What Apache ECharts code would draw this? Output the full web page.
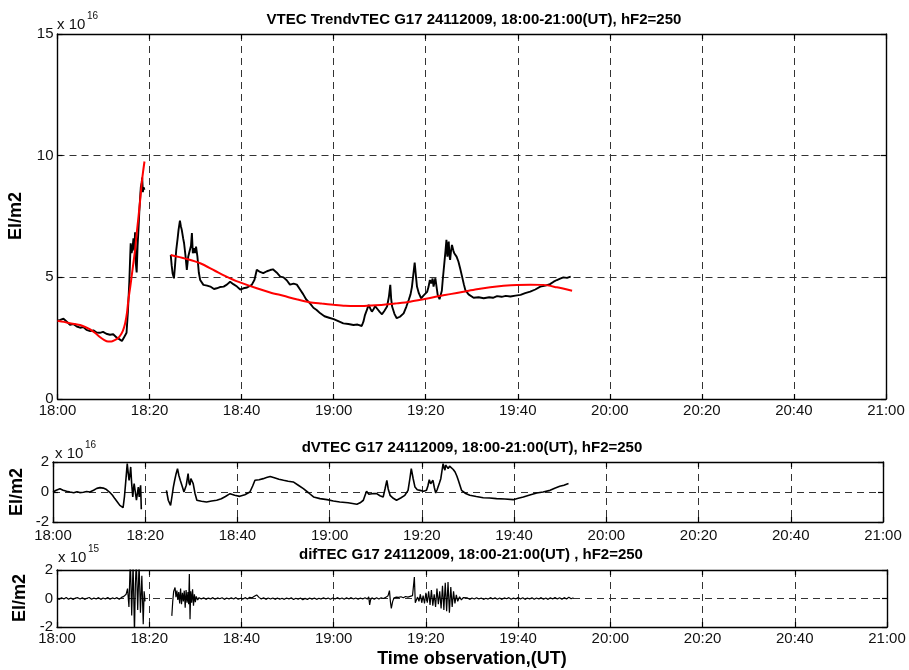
<!DOCTYPE html>
<html>
<head>
<meta charset="utf-8">
<script src="https://cdn.jsdelivr.net/npm/echarts@6/dist/echarts.min.js"></script>
<style>
  html, body { margin: 0; padding: 0; background: #fff; }
  #chart { width: 909px; height: 670px; }
</style>
</head>
<body>
<div id="chart"></div>
<script>
// Time axis: minutes after 18:00 UT
const timeLabels = ['18:00', '18:20', '18:40', '19:00', '19:20', '19:40', '20:00', '20:20', '20:40', '21:00'];

// VTEC (x1e16 El/m2), observed, two passes
const vtecSeg1 = [[0,3.22],[0.6,3.25],[1.3,3.30],[1.9,3.20],[2.7,3.05],[3.4,3.08],[4.2,2.98],[4.9,2.93],[5.6,2.96],[6.3,2.84],[7.1,2.79],[7.8,2.82],[8.5,2.73],[9.2,2.72],[9.9,2.76],[10.6,2.68],[11.4,2.64],[12.1,2.66],[12.9,2.52],[13.5,2.45],[14.0,2.38],[14.5,2.55],[15.0,2.72],[15.3,3.6],[15.6,4.8],[15.8,5.9],[15.9,6.4],[16.1,6.0],[16.3,6.2],[16.5,6.6],[16.7,6.1],[16.85,6.85],[17.0,5.6],[17.2,5.2],[17.4,6.3],[17.6,7.0],[17.8,7.8],[18.0,8.4],[18.1,8.7],[18.3,8.9],[18.4,9.1],[18.55,8.5],[18.7,8.7],[18.9,8.6]];
const vtecSeg2 = [[24.6,5.92],[24.8,5.5],[25.0,5.17],[25.3,4.96],[25.5,5.4],[25.8,6.13],[26.1,6.6],[26.3,6.95],[26.6,7.33],[26.8,7.1],[27.0,6.95],[27.3,6.6],[27.5,6.40],[27.8,5.9],[28.1,5.31],[28.4,5.85],[28.6,6.0],[28.8,6.06],[29.0,6.3],[29.2,6.82],[29.4,5.99],[29.7,6.20],[29.9,6.0],[30.1,6.26],[30.4,5.85],[30.7,5.2],[31.0,4.89],[31.7,4.69],[32.5,4.66],[33.2,4.62],[34.0,4.52],[34.6,4.55],[35.3,4.60],[36.1,4.62],[36.8,4.70],[37.5,4.82],[38.2,4.72],[39.0,4.62],[39.7,4.50],[40.4,4.55],[41.2,4.58],[42.2,4.69],[42.8,4.9],[43.3,5.31],[44.0,5.22],[44.7,5.17],[45.5,5.25],[46.2,5.30],[46.8,5.33],[47.6,5.20],[48.4,5.03],[49.1,5.00],[49.8,4.88],[50.5,4.70],[51.3,4.74],[52.0,4.70],[52.7,4.50],[53.4,4.30],[54.0,4.10],[54.9,3.92],[55.6,3.75],[56.3,3.66],[57.1,3.52],[58.0,3.40],[59.0,3.34],[60.0,3.28],[61.0,3.20],[62.1,3.11],[63.2,3.08],[64.3,3.04],[65.2,3.06],[66.1,3.0],[66.5,3.2],[66.8,3.45],[67.2,3.65],[67.6,3.87],[68.0,3.70],[68.3,3.59],[68.7,3.70],[69.0,3.82],[69.5,3.70],[70.0,3.58],[70.5,3.48],[71.0,3.62],[71.6,3.80],[72.0,4.2],[72.3,4.69],[72.5,4.1],[72.7,3.80],[73.2,3.50],[73.7,3.32],[74.4,3.38],[75.2,3.52],[75.8,3.80],[76.3,4.07],[76.7,4.30],[77.0,4.6],[77.3,5.1],[77.6,5.61],[77.9,5.0],[78.1,4.62],[78.5,4.35],[79.0,4.14],[79.5,4.25],[79.9,4.21],[80.3,4.40],[80.6,4.60],[80.9,4.89],[81.2,4.75],[81.5,4.95],[81.7,4.62],[81.9,4.80],[82.1,4.96],[82.4,4.55],[82.6,4.28],[83.0,4.10],[83.2,4.14],[83.5,4.45],[83.7,4.9],[83.9,5.3],[84.1,5.7],[84.3,6.1],[84.5,6.54],[84.7,5.85],[84.85,6.3],[85.0,6.47],[85.15,5.9],[85.3,5.72],[85.5,6.1],[85.7,6.33],[86.0,6.1],[86.2,5.99],[86.7,5.85],[87.1,5.65],[87.5,5.35],[87.9,5.03],[88.3,4.70],[88.6,4.48],[89.3,4.30],[90.4,4.16],[91.5,4.18],[92.6,4.14],[93.8,4.18],[94.6,4.16],[95.5,4.23],[96.5,4.20],[97.4,4.24],[98.4,4.21],[99.5,4.25],[100.6,4.28],[101.6,4.35],[102.7,4.41],[103.8,4.50],[104.9,4.62],[106.0,4.66],[107.0,4.72],[107.8,4.82],[108.5,4.89],[109.2,4.95],[109.9,5.0],[110.7,4.98],[111.5,5.03]];

// VTEC polynomial trend (x1e16 El/m2)
const trendSeg1 = [[0,3.22],[1.4,3.17],[2.7,3.11],[3.8,3.08],[4.9,3.04],[6.0,2.96],[7.1,2.86],[8.2,2.71],[9.2,2.55],[10.1,2.43],[11.0,2.36],[11.7,2.36],[12.4,2.42],[13.0,2.48],[13.6,2.60],[14.2,2.80],[14.7,3.11],[15.1,3.55],[15.4,4.07],[15.8,4.60],[16.1,5.03],[16.5,5.60],[16.85,6.13],[17.2,6.80],[17.6,7.5],[18.0,8.25],[18.3,8.87],[18.6,9.35],[18.9,9.76]];
const trendSeg2 = [[24.6,5.92],[27.8,5.77],[31,5.58],[34.2,5.27],[37.5,4.96],[40.4,4.74],[43.3,4.55],[46.2,4.38],[49.1,4.24],[51.9,4.10],[54.7,3.98],[57.4,3.92],[60,3.87],[62.5,3.83],[65,3.82],[67.9,3.84],[70.8,3.87],[73.7,3.93],[76.6,4.0],[79.5,4.10],[82.4,4.21],[85.3,4.31],[88.2,4.41],[91.1,4.51],[94,4.59],[96.9,4.65],[99.8,4.69],[102.7,4.70],[105.6,4.69],[108.5,4.59],[111.8,4.45]];

// dVTEC (x1e16 El/m2)
const dvtecSeg1 = [[0,0],[0.7,0.12],[1.5,0.22],[2.2,0.12],[2.95,0.05],[3.7,0.0],[4.5,-0.05],[5.2,0.02],[5.8,-0.04],[6.6,-0.02],[7.3,0.03],[8.0,0.0],[8.8,0.12],[9.5,0.24],[10.2,0.29],[10.9,0.26],[11.6,0.16],[12.3,-0.02],[12.9,-0.22],[13.4,-0.44],[14.0,-0.68],[14.5,-0.89],[15.2,-1.04],[15.5,-0.3],[15.8,0.78],[16.1,1.89],[16.3,1.3],[16.5,0.78],[16.7,1.2],[16.85,1.67],[17.05,0.6],[17.3,-0.33],[17.45,0.2],[17.6,0.56],[17.85,0.0],[18.1,-0.55],[18.3,-0.1],[18.5,0.33],[18.7,-0.33],[18.85,0.1],[19.0,0.45],[19.15,-1.15]];
const dvtecSeg2 = [[24.6,0.11],[25.0,-0.55],[25.5,-0.89],[25.8,-0.3],[26.1,0.33],[26.4,0.8],[26.7,1.22],[27.0,1.56],[27.3,1.1],[27.6,0.78],[28.0,0.4],[28.4,0.0],[28.9,0.45],[29.3,1.22],[29.5,0.6],[29.7,0.45],[29.9,0.9],[30.1,0.78],[30.4,0.56],[30.8,-0.1],[31.2,-0.55],[32.2,-0.62],[33.3,-0.67],[34.4,-0.60],[35.5,-0.55],[36.5,-0.45],[37.4,-0.30],[38.4,-0.11],[39.4,-0.22],[40.5,-0.29],[41.6,-0.18],[42.7,0.0],[43.3,0.4],[43.8,0.78],[44.7,0.82],[45.6,0.89],[46.3,0.96],[47.1,1.04],[48.0,0.95],[49.0,0.85],[50.0,0.78],[51.0,0.72],[52.1,0.67],[53.2,0.45],[54.3,0.22],[55.4,-0.05],[56.5,-0.33],[57.9,-0.44],[59.4,-0.51],[60.8,-0.60],[62.2,-0.67],[64.0,-0.72],[65.9,-0.82],[66.6,-0.72],[67.3,-0.55],[67.7,-0.2],[68.0,0.05],[68.5,-0.15],[68.9,-0.22],[69.5,-0.1],[70.2,-0.11],[70.9,-0.25],[71.6,-0.33],[72.0,0.2],[72.4,0.78],[72.7,0.2],[73.1,-0.22],[73.8,-0.42],[74.5,-0.55],[75.4,-0.40],[76.3,-0.22],[77.0,0.11],[77.4,0.9],[77.7,1.56],[78.1,0.9],[78.5,0.33],[79.0,0.15],[79.6,0.11],[79.9,0.22],[80.4,0.05],[81.0,0.11],[81.3,0.4],[81.6,0.82],[81.9,0.55],[82.1,0.45],[82.4,0.78],[82.7,0.3],[83.0,-0.07],[83.3,0.15],[83.5,0.33],[83.8,0.6],[84.1,0.89],[84.4,1.5],[84.6,1.89],[84.8,1.6],[85.0,1.45],[85.15,1.8],[85.3,1.93],[85.5,1.7],[85.7,1.56],[86.0,1.72],[86.4,1.67],[86.8,1.5],[87.2,1.33],[87.6,1.05],[87.9,0.78],[88.3,0.4],[88.6,0.11],[89.5,-0.10],[90.4,-0.22],[91.8,-0.30],[93.3,-0.38],[94.7,-0.40],[96.2,-0.44],[98.0,-0.47],[99.8,-0.51],[100.9,-0.42],[102.0,-0.33],[103.4,-0.20],[104.9,-0.07],[106.3,0.0],[107.8,0.11],[108.8,0.25],[109.9,0.38],[110.8,0.45],[111.8,0.56]];

// difTEC (x1e15 El/m2)
const difSeg1 = [[0,0.02],[0.5,-0.06],[1,0.05],[1.5,-0.03],[2,0.07],[2.5,-0.05],[3,0.04],[3.5,-0.07],[4,0.03],[4.5,0.06],[5,-0.04],[5.5,0.05],[6,-0.06],[6.5,0.02],[7,0.07],[7.5,-0.05],[8,0.04],[8.5,-0.03],[9,0.06],[9.5,-0.06],[10,0.03],[10.5,-0.04],[11,0.07],[11.5,-0.05],[12,0.04],[12.5,-0.02],[13,0.06],[13.5,-0.05],[14,0.08],[14.5,0.15],[15.0,0.3],[15.3,0.7],[15.6,-0.6],[15.9,2.8],[16.2,-1.2],[16.5,2.5],[16.8,-2.5],[17.0,1.0],[17.2,2.6],[17.5,-0.8],[17.8,2.5],[18.1,-1.0],[18.4,1.6],[18.7,-1.8],[18.9,0.5],[19.1,-0.2]];
const difSeg2 = [[24.9,-1.22],[25.1,-0.2],[25.3,0.5],[25.6,0.77],[25.8,0.1],[26.0,0.55],[26.2,-0.1],[26.4,0.45],[26.6,-0.35],[26.8,0.7],[27.0,-0.4],[27.2,0.4],[27.4,-0.2],[27.6,0.55],[27.8,-0.65],[28.0,0.6],[28.2,-0.3],[28.4,0.45],[28.55,-0.4],[28.7,1.72],[28.85,-1.45],[29.0,0.5],[29.2,-0.3],[29.4,0.65],[29.6,-0.5],[29.8,0.3],[30.0,-0.25],[30.2,0.15],[30.5,-0.1],[30.8,0.06],[31.3,-0.04],[31.8,0.05],[32.3,-0.06],[32.8,0.03],[33.3,-0.03],[33.8,0.06],[34.3,-0.05],[34.8,0.04],[35.3,-0.02],[35.8,0.05],[36.3,-0.06],[36.8,0.03],[37.3,-0.04],[37.8,0.05],[38.3,-0.03],[38.8,0.06],[39.3,-0.05],[39.8,0.02],[40.3,-0.04],[40.8,0.06],[41.3,-0.03],[41.8,0.08],[42.3,0.05],[42.8,0.15],[43.3,0.25],[43.8,0.08],[44.3,-0.04],[44.8,0.05],[45.3,-0.06],[45.8,0.03],[46.3,-0.04],[46.8,0.04],[47.3,-0.06],[47.8,0.03],[48.3,-0.05],[48.8,0.02],[49.3,-0.06],[49.8,0.04],[50.3,-0.03],[50.8,0.05],[51.3,-0.07],[51.8,0.02],[52.3,-0.05],[52.8,0.03],[53.3,-0.08],[53.8,0.01],[54.3,-0.06],[54.8,0.03],[55.3,-0.05],[55.8,0.04],[56.3,-0.06],[56.8,0.02],[57.3,-0.04],[57.8,0.05],[58.3,-0.03],[58.8,0.04],[59.3,-0.05],[59.8,0.03],[60.3,-0.04],[60.8,0.06],[61.3,-0.03],[61.8,0.04],[62.3,-0.06],[62.8,0.05],[63.3,-0.03],[63.8,0.06],[64.3,-0.04],[64.8,0.03],[65.3,-0.05],[65.8,0.04],[66.3,-0.03],[66.8,0.05],[67.3,-0.04],[67.6,0.12],[67.8,-0.45],[68.0,-0.1],[68.3,0.05],[68.8,-0.05],[69.3,0.06],[69.8,-0.04],[70.3,0.05],[70.8,0.0],[71.3,0.08],[71.8,0.2],[72.1,0.55],[72.3,-0.2],[72.5,-0.7],[72.8,-0.2],[73.1,0.05],[73.6,0.1],[74.1,0.08],[74.6,0.12],[75.1,0.05],[75.6,0.14],[76.1,0.1],[76.6,0.15],[77.1,0.2],[77.5,1.5],[77.7,-0.3],[77.9,-0.4],[78.2,0.1],[78.5,-0.2],[78.8,0.3],[79.1,-0.3],[79.4,0.2],[79.7,-0.35],[80.0,0.4],[80.3,-0.3],[80.6,0.5],[80.9,-0.45],[81.2,0.6],[81.5,-0.5],[81.8,0.3],[82.1,-0.6],[82.4,0.7],[82.7,-0.4],[83.0,0.5],[83.3,-0.7],[83.6,0.9],[83.9,-0.8],[84.2,1.1],[84.5,-0.9],[84.8,1.15],[85.1,-1.0],[85.4,0.8],[85.7,-0.6],[86.0,0.5],[86.3,-0.35],[86.6,0.25],[86.9,-0.2],[87.3,0.12],[87.7,-0.1],[88.1,0.06],[88.5,-0.05],[89,0.04],[89.5,-0.06],[90,0.03],[90.5,-0.04],[91,0.05],[91.5,-0.03],[92,0.04],[92.5,-0.06],[93,0.02],[93.5,-0.04],[94,0.06],[94.5,-0.03],[95,0.05],[95.5,-0.05],[96,0.03],[96.5,-0.06],[97,0.04],[97.5,-0.02],[98,0.06],[98.5,-0.05],[99,0.03],[99.5,-0.04],[100,0.07],[100.5,-0.03],[101,0.05],[101.5,-0.06],[102,0.03],[102.5,-0.04],[103,0.06],[103.5,-0.05],[104,0.04],[104.5,-0.03],[105,0.06],[105.5,-0.05],[106,0.03],[106.5,-0.06],[107,0.05],[107.5,-0.03],[108,0.07],[108.5,-0.04],[109,0.05],[109.5,-0.06],[110,0.06],[110.5,-0.03],[111,0.08],[111.5,-0.02],[112,0.05]];

// Panel titles and axis text
const titles = [
  'VTEC TrendvTEC G17 24112009, 18:00-21:00(UT), hF2=250',
  'dVTEC G17 24112009, 18:00-21:00(UT), hF2=250',
  'difTEC G17 24112009, 18:00-21:00(UT) , hF2=250'
];
const yName = 'El/m2';
const xName = 'Time observation,(UT)';
const exponents = ['16', '16', '15'];

const FONT = '"Liberation Sans", Arial, Helvetica, sans-serif';

const panels = [
  { left: 57.5, top: 34, width: 828.5, height: 365, yMin: 0, yMax: 15, yStep: 5 },
  { left: 53, top: 462, width: 830, height: 60, yMin: -2, yMax: 2, yStep: 2 },
  { left: 57, top: 570, width: 830, height: 57, yMin: -2, yMax: 2, yStep: 2 }
];

const grid = [], xAxis = [], yAxis = [];
const frame = { show: true, onZero: false, lineStyle: { color: '#000', width: 1.4 } };
const dash = { show: true, lineStyle: { color: '#333', width: 1, type: [7, 5] } };
const tick = { show: true, inside: true, length: 5, lineStyle: { color: '#000', width: 1.2 } };
panels.forEach((p, i) => {
  grid.push({ left: p.left, top: p.top, width: p.width, height: p.height, show: false });
  xAxis.push({
    type: 'value', gridIndex: i, min: 0, max: 180, interval: 20, position: 'bottom',
    axisLine: frame, axisTick: tick, splitLine: dash,
    axisLabel: { show: true, margin: i === 1 ? 6 : 4, fontSize: 15, color: '#111', fontFamily: FONT,
      formatter: v => timeLabels[Math.round(v / 20)] }
  });
  xAxis.push({
    type: 'value', gridIndex: i, min: 0, max: 180, interval: 20, position: 'top',
    axisLine: frame, axisTick: tick, splitLine: { show: false }, axisLabel: { show: false }
  });
  yAxis.push({
    type: 'value', gridIndex: i, min: p.yMin, max: p.yMax, interval: p.yStep, position: 'left',
    axisLine: frame, axisTick: tick, splitLine: dash,
    axisLabel: { show: true, margin: 4, fontSize: 15, color: '#111', fontFamily: FONT }
  });
  yAxis.push({
    type: 'value', gridIndex: i, min: p.yMin, max: p.yMax, interval: p.yStep, position: 'right',
    axisLine: frame, axisTick: tick, splitLine: { show: false }, axisLabel: { show: false }
  });
});

function line(data, panel, color, width) {
  return {
    type: 'line', data: data, xAxisIndex: panel * 2, yAxisIndex: panel * 2,
    showSymbol: false, symbol: 'none', clip: true, animation: false,
    lineStyle: { color: color, width: width }
  };
}

const series = [
  line(vtecSeg1, 0, '#000', 1.9),
  line(vtecSeg2, 0, '#000', 1.9),
  Object.assign(line(trendSeg1, 0, '#ff0000', 2), { smooth: 0.3 }),
  Object.assign(line(trendSeg2, 0, '#ff0000', 2), { smooth: 0.3 }),
  line(dvtecSeg1, 1, '#000', 1.6),
  line(dvtecSeg2, 1, '#000', 1.6),
  line(difSeg1, 2, '#000', 1.2),
  line(difSeg2, 2, '#000', 1.2)
];

const titleY = [7, 435, 542];
const titleX = [469, 467, 466];
const title = titles.map((t, i) => ({
  text: t, left: titleX[i], top: titleY[i], textAlign: 'center',
  textStyle: { fontSize: 15, fontWeight: 'bold', color: '#000', fontFamily: FONT }
}));

const expPos = [[57, 17], [55, 446], [58, 550]];
const graphic = [];
expPos.forEach((pos, i) => {
  graphic.push({ type: 'text', left: pos[0], top: pos[1],
    style: { text: 'x 10', fill: '#111', font: '15px ' + FONT } });
  graphic.push({ type: 'text', left: pos[0] + 30, top: pos[1] - 6,
    style: { text: exponents[i], fill: '#111', font: '10px ' + FONT } });
});
const yNamePos = [[16, 216], [17, 492], [20, 598]];
yNamePos.forEach(pos => {
  graphic.push({ type: 'text', x: pos[0], y: pos[1], rotation: Math.PI / 2,
    style: { text: yName, font: 'bold 18px ' + FONT, fill: '#000', align: 'center', verticalAlign: 'middle' } });
});
graphic.push({ type: 'text', x: 472, y: 659,
  style: { text: xName, font: 'bold 18px ' + FONT, fill: '#000', align: 'center', verticalAlign: 'middle' } });

const chart = echarts.init(document.getElementById('chart'), null, { renderer: 'canvas' });
chart.setOption({
  animation: false,
  backgroundColor: '#fff',
  title: title,
  grid: grid,
  xAxis: xAxis,
  yAxis: yAxis,
  series: series,
  graphic: graphic
});
</script>
</body>
</html>
